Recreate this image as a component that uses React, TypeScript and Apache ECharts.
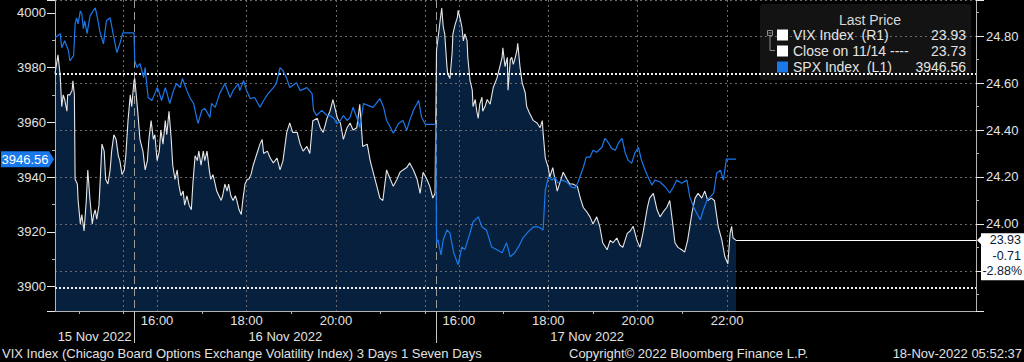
import React, { useEffect, useRef } from "react";
import * as echarts from "echarts";

type Pt = [number, number];

// ---- time axis definition ----
const DAYS = ["15 Nov 2022", "16 Nov 2022", "17 Nov 2022"];
const SESSION_OPEN = 15 * 60 + 30; // 15:30
const SESSION_LEN = 405; // minutes per session (15:30 - 22:14)
const FIRST_DAY_START = 298; // window starts 20:28 on first day
const LAST_DAY_AXIS_END = 724; // axis runs on past the last print

// ---- data: [minutes after 15:30 open, value] ----
const spx15: Pt[] = [
  [298, 3990.9], [305, 3992.4], [307, 3987.3], [311, 3989.8], [316, 3986.2], [318, 3982.5], [323, 3984.4],
  [325, 3996.0], [327, 3998.2], [329, 3996.0], [332, 4000.7], [334, 3999.6], [336, 3994.2], [338, 3997.1],
  [341, 3992.4], [345, 3998.9], [349, 4000.7], [352, 4001.8], [355, 3998.2], [358, 3993.5], [363, 3988.7],
  [367, 3997.1], [372, 3998.2], [376, 3992.4], [381, 3985.5], [385, 3988.7], [389, 3992.7], [404, 3992.7],
];
const spx16: Pt[] = [
  [0, 3982.5], [3, 3980.0], [7, 3981.5], [12, 3976.4], [14, 3980.0], [16, 3974.2], [18, 3969.1], [23, 3968.0],
  [27, 3970.5], [30, 3972.7], [32, 3971.6], [36, 3968.0], [41, 3972.7], [43, 3970.9], [47, 3966.9], [52, 3971.6],
  [56, 3974.2], [61, 3972.7], [64, 3976.0], [70, 3971.6], [74, 3969.1], [79, 3966.9], [83, 3961.8], [85, 3959.6],
  [90, 3964.4], [94, 3965.1], [101, 3961.8], [103, 3966.9], [108, 3965.5], [114, 3970.5], [121, 3974.2],
  [128, 3969.1], [132, 3971.6], [139, 3974.2], [141, 3971.6], [146, 3975.3], [150, 3971.6], [155, 3968.7],
  [161, 3969.1], [168, 3965.5], [173, 3968.0], [179, 3970.5], [186, 3972.7], [190, 3974.2], [195, 3980.0],
  [199, 3978.9], [204, 3976.0], [208, 3972.7], [217, 3974.5], [222, 3971.6], [231, 3972.7], [238, 3970.5],
  [240, 3964.4], [244, 3962.5], [251, 3964.4], [258, 3962.5], [262, 3962.5], [267, 3961.5], [271, 3959.6],
  [276, 3960.7], [280, 3962.5], [285, 3960.7], [289, 3961.8], [293, 3965.5], [298, 3961.8], [302, 3958.2],
  [307, 3966.9], [313, 3966.2], [320, 3965.5], [329, 3968.7], [334, 3965.5], [338, 3960.7], [343, 3958.2],
  [347, 3956.0], [354, 3959.6], [360, 3960.7], [365, 3957.1], [369, 3960.7], [374, 3964.4], [381, 3968.0],
  [385, 3961.8], [390, 3959.3], [404, 3959.3],
];
const spx17: Pt[] = [
  [0, 3916.0], [2, 3917.1], [6, 3911.6], [9, 3917.1], [14, 3920.7], [18, 3919.6], [23, 3912.4], [29, 3908.0],
  [34, 3914.5], [38, 3913.5], [45, 3919.6], [49, 3923.6], [56, 3925.5], [61, 3921.8], [67, 3920.7], [74, 3914.5],
  [81, 3913.5], [88, 3912.4], [94, 3916.0], [99, 3910.9], [105, 3912.4], [110, 3914.5], [116, 3917.8],
  [123, 3920.0], [130, 3921.8], [137, 3921.8], [143, 3920.7], [146, 3935.3], [150, 3940.0], [155, 3938.9],
  [159, 3940.0], [163, 3937.8], [168, 3938.9], [175, 3938.2], [181, 3936.4], [186, 3936.0], [190, 3938.2],
  [197, 3943.6], [201, 3947.3], [206, 3947.3], [210, 3949.8], [215, 3949.1], [222, 3950.9], [226, 3954.2],
  [231, 3952.4], [235, 3950.5], [240, 3949.8], [244, 3952.4], [249, 3954.2], [253, 3949.1], [257, 3946.2],
  [262, 3945.1], [266, 3948.7], [271, 3950.9], [275, 3946.2], [280, 3942.5], [284, 3940.0], [289, 3937.1],
  [293, 3938.9], [300, 3938.2], [307, 3936.4], [313, 3934.2], [318, 3936.4], [322, 3938.9], [329, 3937.8],
  [336, 3938.9], [340, 3932.7], [345, 3929.1], [349, 3926.9], [354, 3924.4], [358, 3928.0], [363, 3931.6],
  [367, 3932.7], [372, 3934.2], [376, 3941.5], [381, 3942.5], [385, 3938.9], [389, 3946.56], [402, 3946.56],
];
const vix15: Pt[] = [
  [298, 24.64], [302, 24.72], [305, 24.63], [307, 24.5], [309, 24.55], [311, 24.53], [314, 24.48], [315, 24.55],
  [318, 24.55], [321, 24.57], [322, 24.61], [324, 24.55], [325, 24.19], [328, 24.17], [329, 24.1], [332, 24.0],
  [334, 24.04], [337, 23.97], [340, 24.1], [342, 24.23], [345, 24.1], [348, 24.0], [350, 24.04], [352, 24.06],
  [354, 24.02], [357, 24.08], [358, 24.14], [361, 24.34], [364, 24.31], [366, 24.19], [369, 24.17], [372, 24.23],
  [374, 24.31], [377, 24.38], [380, 24.36], [383, 24.29], [385, 24.27], [388, 24.21], [391, 24.23], [393, 24.29],
  [396, 24.44], [399, 24.55], [401, 24.5], [404, 24.61],
];
const vix16: Pt[] = [
  [0, 24.62], [4, 24.48], [7, 24.36], [11, 24.31], [14, 24.23], [17, 24.27], [19, 24.36], [22, 24.44], [25, 24.36],
  [27, 24.38], [30, 24.27], [33, 24.31], [35, 24.4], [38, 24.34], [41, 24.44], [43, 24.38], [46, 24.48], [49, 24.36],
  [51, 24.25], [54, 24.19], [57, 24.23], [59, 24.17], [62, 24.12], [65, 24.14], [67, 24.08], [70, 24.12], [73, 24.08],
  [76, 24.06], [78, 24.17], [81, 24.29], [84, 24.27], [86, 24.31], [89, 24.25], [92, 24.31], [94, 24.27], [97, 24.31],
  [100, 24.23], [102, 24.19], [105, 24.21], [108, 24.17], [110, 24.14], [113, 24.12], [116, 24.1], [118, 24.12],
  [121, 24.17], [124, 24.14], [126, 24.17], [129, 24.12], [132, 24.1], [135, 24.12], [137, 24.1], [140, 24.06],
  [143, 24.04], [145, 24.1], [148, 24.17], [151, 24.19], [153, 24.19], [156, 24.21], [159, 24.25], [164, 24.3],
  [168, 24.34], [171, 24.36], [173, 24.3], [178, 24.31], [182, 24.28], [186, 24.26], [191, 24.28], [195, 24.23],
  [199, 24.27], [204, 24.39], [208, 24.43], [212, 24.39], [218, 24.39], [222, 24.34], [226, 24.31], [231, 24.33],
  [235, 24.3], [239, 24.44], [245, 24.45], [249, 24.41], [253, 24.39], [258, 24.45], [262, 24.48], [266, 24.53],
  [272, 24.45], [276, 24.43], [280, 24.36], [285, 24.41], [289, 24.43], [293, 24.4], [298, 24.41], [302, 24.51],
  [306, 24.33], [312, 24.34], [316, 24.27], [320, 24.22], [325, 24.16], [329, 24.11], [333, 24.1], [338, 24.23],
  [343, 24.19], [347, 24.16], [352, 24.19], [356, 24.22], [360, 24.23], [365, 24.24], [369, 24.26], [374, 24.23],
  [379, 24.19], [383, 24.13], [387, 24.22], [392, 24.19], [396, 24.16], [400, 24.11], [403, 24.13],
];
const vix17: Pt[] = [
  [0, 24.74], [2, 24.79], [5, 24.87], [7, 24.92], [9, 24.84], [11, 24.81], [14, 24.67], [15, 24.64], [18, 24.62],
  [21, 24.73], [22, 24.81], [25, 24.85], [28, 24.88], [29, 24.91], [32, 24.87], [34, 24.84], [36, 24.78], [38, 24.81],
  [41, 24.78], [42, 24.71], [45, 24.61], [48, 24.57], [49, 24.5], [52, 24.53], [54, 24.48], [56, 24.45], [58, 24.51],
  [61, 24.54], [62, 24.48], [65, 24.5], [68, 24.53], [72, 24.51], [76, 24.58], [81, 24.62], [85, 24.67], [88, 24.71],
  [89, 24.75], [92, 24.67], [95, 24.71], [96, 24.57], [99, 24.7], [101, 24.71], [103, 24.68], [105, 24.7],
  [108, 24.74], [109, 24.77], [112, 24.67], [115, 24.6], [119, 24.56], [121, 24.5], [125, 24.47], [130, 24.44],
  [135, 24.43], [139, 24.41], [142, 24.44], [143, 24.39], [146, 24.28], [148, 24.26], [150, 24.24], [152, 24.2],
  [155, 24.23], [156, 24.24], [159, 24.19], [162, 24.14], [166, 24.18], [170, 24.22], [175, 24.19], [179, 24.17],
  [183, 24.17], [189, 24.16], [193, 24.11], [197, 24.07], [202, 24.05], [206, 24.03], [210, 24.0], [215, 24.03],
  [219, 23.99], [223, 23.92], [229, 23.89], [233, 23.93], [237, 23.92], [242, 23.94], [246, 23.91], [250, 23.9],
  [256, 23.96], [260, 23.97], [264, 23.99], [269, 23.93], [273, 23.9], [277, 23.96], [283, 24.07], [286, 24.11],
  [291, 24.13], [296, 24.06], [300, 24.03], [304, 24.05], [309, 24.07], [313, 24.1], [317, 24.0], [320, 23.92],
  [324, 23.9], [329, 23.89], [333, 23.88], [337, 23.93], [343, 24.05], [347, 24.11], [351, 24.13], [356, 24.11],
  [360, 24.14], [364, 24.1], [369, 24.11], [373, 24.1], [378, 23.99], [383, 23.93], [387, 23.86], [391, 23.83],
  [394, 23.96], [396, 23.99], [398, 23.94], [402, 23.93],
];

const VIX_REF_CLOSE = 24.64; // reference close used for change
const VIX_CLOSE_1114 = 23.73; // close on 11/14

const LEGEND_TITLE = "Last Price";
const LEGEND_NAMES = ["VIX Index  (R1)", "Close on 11/14 ----", "SPX Index  (L1)"];
const FOOTER_LEFT = "VIX Index (Chicago Board Options Exchange Volatility Index) 3 Days 1 Seven Days";
const FOOTER_MID = "Copyright\u00a9 2022 Bloomberg Finance L.P.";
const FOOTER_RIGHT = "18-Nov-2022 05:52:37";

// ---- styles ----
const FONT = "'Liberation Sans', Arial, sans-serif";
const FS = 13;
const TXT = "#e2e2e2";
const AXIS = "#b4b4b4";
const GRID = "#6a6a6a";
const BLUE = "#1a78ea";
const VIXC = "#e6e6e6";
const NAVY = "#06203d";

const pad = (n: number) => (n < 10 ? "0" + n : "" + n);
const hhmm = (mins: number) => pad(Math.floor(mins / 60)) + ":" + pad(mins % 60);

// ---- compressed intraday category axis ----
const dayStart = [FIRST_DAY_START, 0, 0];
const dayEnd = [SESSION_LEN - 1, SESSION_LEN - 1, LAST_DAY_AXIS_END];
const dayOffset: number[] = [];
const categories: string[] = [];
const catDay: number[] = [];
const catMin: number[] = [];
DAYS.forEach((d, di) => {
  dayOffset.push(categories.length - dayStart[di]);
  for (let m = dayStart[di]; m <= dayEnd[di]; m++) {
    categories.push(d + " " + hhmm(SESSION_OPEN + m));
    catDay.push(di);
    catMin.push(m);
  }
});
const lastDay = DAYS.length - 1;
const clock = (i: number) => SESSION_OPEN + catMin[i];
const inSession = (i: number) => catMin[i] < SESSION_LEN;
const isHour = (i: number) => inSession(i) && clock(i) % 60 === 0;
const isEvenHour = (i: number) => isHour(i) && clock(i) % 120 === 0;
const isLabeled = (i: number) =>
  isEvenHour(i) && (catMin[i] < SESSION_LEN - 30 || catDay[i] === lastDay);
const isSeparator = (i: number) => catMin[i] === 0 && catDay[i] > 0;
const dayMid = DAYS.map((_, di) =>
  Math.round((dayOffset[di] + dayStart[di] + dayOffset[di] + Math.min(dayEnd[di], SESSION_LEN - 1)) / 2)
);
const isDayMid = (i: number) => dayMid.indexOf(i) >= 0;

const toSeries = (days: Pt[][]) =>
  days.flatMap((arr, di) => arr.map(([m, v]) => [dayOffset[di] + m, v]));

const spxData = toSeries([spx15, spx16, spx17]);
const vixData = toSeries([vix15, vix16, vix17]);
const spxLast = spx17[spx17.length - 1][1];
const vixLast = vix17[vix17.length - 1][1];
const vixLastIdx = dayOffset[lastDay] + vix17[vix17.length - 1][0];
const vixChg = vixLast - VIX_REF_CLOSE;
const vixPct = (vixChg / VIX_REF_CLOSE) * 100;

export default function App() {
  const ref = useRef<HTMLDivElement>(null);
  useEffect(() => {
    document.body.style.margin = "0";
    document.body.style.background = "#000";
    const chart = echarts.init(ref.current!, null, { renderer: "svg" });
    const dotted = { color: "#f2f2f2", type: [2, 2] as any, width: 2 };
    chart.setOption({
      backgroundColor: "#000",
      animation: false,
      textStyle: { fontFamily: FONT },
      grid: { left: 55, right: 48, top: -1, bottom: 51, containLabel: false },
      xAxis: [
        {
          type: "category",
          data: categories,
          boundaryGap: false,
          z: 3,
          axisLine: { lineStyle: { color: AXIS } },
          axisTick: { interval: (i: number) => isHour(i) && !isLabeled(i), length: 3, lineStyle: { color: AXIS } },
          axisLabel: {
            interval: (i: number) => isLabeled(i),
            formatter: (_v: string, i: number) => hhmm(clock(i)),
            color: TXT,
            fontSize: FS,
            fontFamily: FONT,
            margin: 3,
          },
          splitLine: { show: true, interval: (i: number) => isEvenHour(i), lineStyle: { color: GRID, type: [2, 3], width: 1 } },
        },
        {
          type: "category",
          data: categories,
          boundaryGap: false,
          position: "bottom",
          z: 3,
          axisLine: { show: false },
          axisTick: { interval: (i: number) => isSeparator(i), length: 32, lineStyle: { color: "#c8c8c8" } },
          axisLabel: {
            interval: (i: number) => isDayMid(i),
            formatter: (_v: string, i: number) => DAYS[catDay[i]],
            color: TXT,
            fontSize: FS,
            fontFamily: FONT,
            margin: 19,
          },
          splitLine: { show: true, interval: (i: number) => isSeparator(i), lineStyle: { color: "#9a9a9a", type: [8, 4], width: 1 } },
        },
      ],
      yAxis: [
        {
          type: "value",
          position: "left",
          min: 3891.1,
          max: 4004.7,
          splitNumber: 5,
          z: 3,
          axisLine: { show: true, lineStyle: { color: AXIS } },
          axisTick: { show: true, length: 8, lineStyle: { color: "#e8e8e8" } },
          minorTick: { show: true, splitNumber: 2, length: 3, lineStyle: { color: AXIS } },
          axisLabel: {
            color: TXT, fontSize: FS, fontFamily: FONT, margin: 9,
            showMinLabel: false, showMaxLabel: false,
            formatter: (v: number) => v.toFixed(0),
          },
          splitLine: { show: false },
        },
        {
          type: "value",
          position: "right",
          min: 23.629,
          max: 24.954,
          splitNumber: 6,
          z: 3,
          axisLine: { show: true, lineStyle: { color: AXIS } },
          axisTick: { show: true, length: 8, lineStyle: { color: "#e8e8e8" } },
          minorTick: { show: true, splitNumber: 2, length: 3, lineStyle: { color: AXIS } },
          axisLabel: {
            color: TXT, fontSize: FS, fontFamily: FONT, margin: 10,
            showMinLabel: false, showMaxLabel: false,
            formatter: (v: number) => (Math.abs(v - 23.8) < 1e-6 ? "" : v.toFixed(2)),
          },
          splitLine: { show: true, lineStyle: { color: GRID, type: [2, 3], width: 1 } },
        },
      ],
      series: [
        {
          name: "VIX area",
          type: "line",
          yAxisIndex: 1,
          data: vixData,
          showSymbol: false,
          silent: true,
          z: 1,
          lineStyle: { width: 0, opacity: 0 },
          areaStyle: { color: NAVY, opacity: 1, origin: "start" },
        },
        {
          name: "VIX Index",
          type: "line",
          yAxisIndex: 1,
          data: vixData,
          showSymbol: false,
          z: 4,
          lineStyle: { color: VIXC, width: 1.1 },
          markLine: {
            silent: true,
            symbol: "none",
            label: { show: false },
            data: [
              { yAxis: VIX_REF_CLOSE, lineStyle: dotted },
              { yAxis: VIX_CLOSE_1114, lineStyle: dotted },
              [
                { coord: [vixLastIdx, vixLast], lineStyle: { color: "#ffffff", type: "solid", width: 1.2 } },
                { coord: [categories.length - 1, vixLast] },
              ],
            ],
          },
        },
        {
          name: "SPX Index",
          type: "line",
          yAxisIndex: 0,
          data: spxData,
          showSymbol: false,
          z: 5,
          lineStyle: { color: BLUE, width: 1.2 },
        },
      ],
    });

    const ySpx = chart.convertToPixel({ yAxisIndex: 0 }, spxLast) as number;
    const yVix = chart.convertToPixel({ yAxisIndex: 1 }, vixLast) as number;
    const xRight = chart.convertToPixel({ xAxisIndex: 0 }, categories.length - 1) as number;
    const legendRows = [35, 51, 67];
    const legendVals = [vixLast.toFixed(2), VIX_CLOSE_1114.toFixed(2), spxLast.toFixed(2)];
    const legendCols = ["#ffffff", "#ffffff", BLUE];
    const txt = (text: string, x: number, y: number, align: string, color: string, size = FS) => ({
      type: "text",
      x,
      y,
      z: 20,
      style: { text, fill: color, font: `${size}px ${FONT}`, textAlign: align, textVerticalAlign: "middle" },
    });

    chart.setOption({
      graphic: [
        // legend box
        { type: "rect", z: 1, shape: { x: 760, y: 4, width: 211, height: 76, r: 3 }, style: { fill: "rgba(26,26,26,0.72)" } },
        txt(LEGEND_TITLE, 870, 20, "center", "#d8d8d8", 14),
        { type: "rect", z: 20, shape: { x: 767.5, y: 30.5, width: 5, height: 5 }, style: { fill: "none", stroke: "#8c8c8c", lineWidth: 1 } },
        { type: "line", z: 20, shape: { x1: 768.5, y1: 33, x2: 771.5, y2: 33 }, style: { stroke: "#8c8c8c", lineWidth: 1 } },
        { type: "polyline", z: 20, shape: { points: [[770, 36], [770, 50.5], [775, 50.5]] }, style: { fill: "none", stroke: "#8c8c8c", lineWidth: 1 } },
        ...legendRows.map((y, k) => ({
          type: "rect", z: 20, shape: { x: 777, y: y - 5.5, width: 11, height: 11 }, style: { fill: legendCols[k] },
        })),
        ...legendRows.map((y, k) => txt(LEGEND_NAMES[k], 793, y, "left", "#e4e4e4", 14)),
        ...legendRows.map((y, k) => txt(legendVals[k], 966, y, "right", "#e4e4e4", 14)),
        // left SPX last-price tag
        {
          type: "polygon", z: 20,
          shape: { points: [[1, ySpx - 8], [49, ySpx - 8], [54, ySpx], [49, ySpx + 8], [1, ySpx + 8]] },
          style: { fill: BLUE },
        },
        txt(spxLast.toFixed(2), 25, ySpx, "center", "#ffffff", 13),
        // right VIX last-price tag
        {
          type: "polygon", z: 20,
          shape: {
            points: [
              [xRight + 5, yVix - 7], [1024, yVix - 7], [1024, yVix + 40], [xRight + 5, yVix + 40],
              [xRight + 5, yVix + 4], [xRight + 1, yVix], [xRight + 5, yVix - 4],
            ],
          },
          style: { fill: "#ffffff" },
        },
        txt(vixLast.toFixed(2), 1021, yVix, "right", "#0a1a33", 12.5),
        txt(vixChg.toFixed(2), 1021, yVix + 16, "right", "#0a1a33", 12.5),
        txt(vixPct.toFixed(2) + "%", 1022, yVix + 31, "right", "#0a1a33", 12.5),
        // footer
        txt(FOOTER_LEFT, 2, 353, "left", TXT, 13),
        txt(FOOTER_MID, 569, 353, "left", TXT, 13),
        txt(FOOTER_RIGHT, 1022, 353, "right", TXT, 13),
      ],
    });
    return () => chart.dispose();
  }, []);
  return <div ref={ref} style={{ width: 1024, height: 362, position: "absolute", left: 0, top: 0, background: "#000" }} />;
}
